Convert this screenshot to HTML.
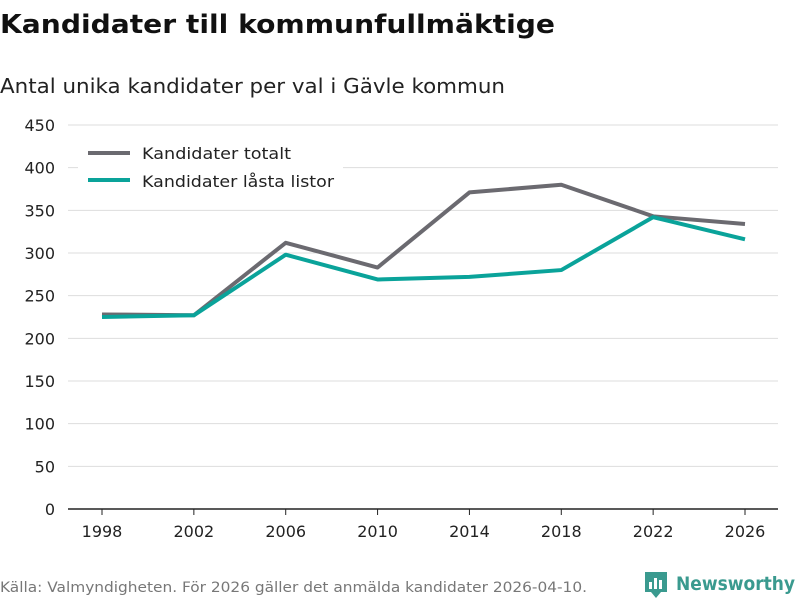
<!DOCTYPE html>
<html><head><meta charset="utf-8">
<style>
body{margin:0;width:800px;height:600px;background:#fff;font-family:"DejaVu Sans","Liberation Sans",sans-serif;overflow:hidden}
</style></head>
<body>
<svg id="chart" width="800" height="600" xmlns="http://www.w3.org/2000/svg">
<text x="0" y="33" font-size="26" font-weight="bold" fill="#111" textLength="555" lengthAdjust="spacingAndGlyphs">Kandidater till kommunfullmäktige</text>
<text x="0" y="93" font-size="20" fill="#222" textLength="505" lengthAdjust="spacingAndGlyphs">Antal unika kandidater per val i Gävle kommun</text>
<g id="grid"></g>
<g id="yticks"></g>
<g id="xticks"></g>
<g id="lines"></g>
<g>
<rect x="78" y="138" width="265" height="60" fill="#fff"/>
<line x1="88" y1="153" x2="130" y2="153" stroke="#6b6a70" stroke-width="4"/>
<text x="142" y="159" font-size="16" fill="#222" textLength="149" lengthAdjust="spacingAndGlyphs">Kandidater totalt</text>
<line x1="88" y1="180" x2="130" y2="180" stroke="#0aa39a" stroke-width="4"/>
<text x="142" y="187" font-size="16" fill="#222" textLength="192" lengthAdjust="spacingAndGlyphs">Kandidater låsta listor</text>
</g>
<text x="0" y="592" font-size="14" fill="#777" textLength="587" lengthAdjust="spacingAndGlyphs">Källa: Valmyndigheten. För 2026 gäller det anmälda kandidater 2026-04-10.</text>
<g>
<path d="M645 572 h22 v20 h-6 l-5 6 l-5 -6 h-6 z" fill="#3a9a8f"/>
<rect x="649" y="582" width="3" height="7" fill="#fff"/><rect x="654" y="578" width="3" height="11" fill="#fff"/><rect x="659" y="580" width="3" height="9" fill="#fff"/>
<text x="676" y="590" font-size="19" font-weight="bold" fill="#3a9a8f" textLength="119" lengthAdjust="spacingAndGlyphs">Newsworthy</text>
</g>
</svg>
<script>
const years=[1998,2002,2006,2010,2014,2018,2022,2026];
const totalValues=[228,227,312,283,371,380,343,334];
const lockedValues=[225,227,298,269,272,280,342,316];
const yTicks=[0,50,100,150,200,250,300,350,400,450];
const NS="http://www.w3.org/2000/svg";
const x0=102,x1=745,left=68,right=778,yBase=509,yTop=125;
const xs=y=>x0+(y-years[0])/(years[years.length-1]-years[0])*(x1-x0);
const ys=v=>yBase-v/450*(yBase-yTop);
function mk(t,a,p){const e=document.createElementNS(NS,t);for(const k in a)e.setAttribute(k,a[k]);p.appendChild(e);return e;}
const grid=document.getElementById('grid'),yg=document.getElementById('yticks'),xg=document.getElementById('xticks'),lg=document.getElementById('lines');
yTicks.forEach(v=>{
 const l=mk('line',{x1:left,x2:right,y1:ys(v),y2:ys(v),stroke:v===0?'#222':'#ddd','stroke-width':v===0?1.5:1},grid);
 
 
 const t=mk('text',{x:55,y:ys(v)+6,'text-anchor':'end','font-size':16,fill:'#222'},yg);
 t.textContent=v;
 
 
});
years.forEach(y=>{
 const tk=mk('line',{x1:xs(y),x2:xs(y),y1:yBase,y2:yBase+6,stroke:'#222'},xg);
 
 
 const t=mk('text',{x:xs(y),y:537,'text-anchor':'middle','font-size':16,fill:'#222'},xg);
 t.textContent=y;
 
 
});
function line(vals,color,name){
 const p=mk('polyline',{points:vals.map((v,i)=>xs(years[i])+','+ys(v)).join(' '),fill:'none',stroke:color,'stroke-width':4,'stroke-linejoin':'round'},lg);
 
 
}
line(totalValues,'#6b6a70','line-total');
line(lockedValues,'#0aa39a','line-locked');
</script>
</body></html>
